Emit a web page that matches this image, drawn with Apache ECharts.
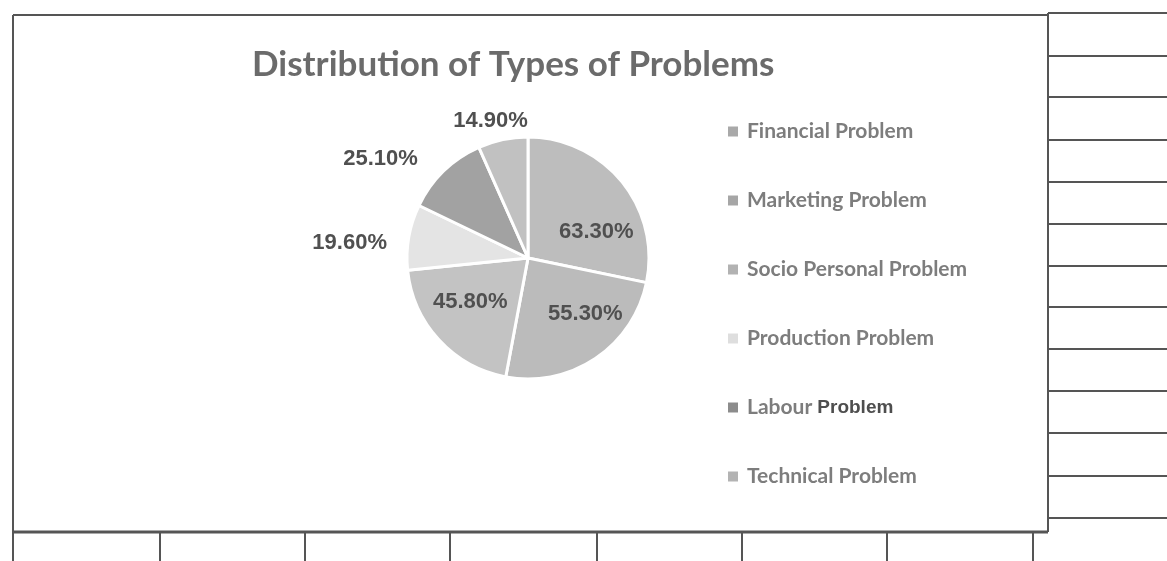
<!DOCTYPE html>
<html>
<head>
<meta charset="utf-8">
<title>Distribution of Types of Problems</title>
<script src="https://cdn.jsdelivr.net/npm/echarts@6/dist/echarts.min.js"></script>
<style>
  html, body { margin: 0; padding: 0; background: #ffffff; }
  #chart { width: 1167px; height: 561px; }
</style>
</head>
<body>
<div id="chart"></div>
<script>
// Problem categories and their reported shares (percent)
const categories = [
  'Financial Problem',
  'Marketing Problem',
  'Socio Personal Problem',
  'Production Problem',
  'Labour Problem',
  'Technical Problem'
];
const shares = [63.3, 55.3, 45.8, 19.6, 25.1, 14.9];

// Greyscale fills, one per category
const sliceColors = ['#bdbdbd', '#bbbbbb', '#c3c3c3', '#e4e4e4', '#a2a2a2', '#c1c1c1'];
const legendColors = ['#a9a9a9', '#a6a6a6', '#b2b2b2', '#dedede', '#8c8c8c', '#b3b3b3'];
// Large slices carry their label inside, small ones outside
const labelPlacement = ['inside', 'inside', 'inside', 'outside', 'outside', 'outside'];
// Small label nudges [dx, dy]
const labelNudge = [[19, 14], [22, 3], [-11, 1], [-7, 8], [-14, -5], [32, -9]];

const chart = echarts.init(document.getElementById('chart'), null, { renderer: 'canvas' });

const lineColor = '#555555';
const frame = [];
function hline(x1, x2, y, w) {
  frame.push({ type: 'line', silent: true, shape: { x1: x1, y1: y, x2: x2, y2: y },
               style: { stroke: lineColor, lineWidth: w || 2 } });
}
function vline(x, y1, y2, w) {
  frame.push({ type: 'line', silent: true, shape: { x1: x, y1: y1, x2: x, y2: y2 },
               style: { stroke: lineColor, lineWidth: w || 2 } });
}
// chart box
hline(13, 1048, 15, 2);
vline(13, 15, 561, 2);
vline(1048, 13, 532, 2);
hline(13, 1048, 532, 3);
// page table rules on the right
hline(1048, 1167, 13, 2);
[56, 97, 140, 182, 224, 266, 307, 349, 391, 433, 476, 518].forEach(y => hline(1049, 1167, y, 2));
// page table cells below
[160, 305, 450, 597, 742, 887, 1033].forEach(x => vline(x, 533, 561, 2));

const pieData = categories.map((name, i) => ({
  name: name,
  value: shares[i],
  itemStyle: { color: sliceColors[i] },
  label: { position: labelPlacement[i] }
}));

chart.setOption({
  backgroundColor: '#ffffff',
  animation: false,
  title: {
    text: 'Distribution of Types of Problems',
    left: 247,
    top: 42,
    textStyle: {
      fontFamily: 'Lato',
      fontWeight: 'bold',
      fontSize: 35,
      color: '#6b6b6b'
    }
  },
  legend: {
    orient: 'vertical',
    left: 721,
    top: 116,
    itemWidth: 12,
    itemHeight: 12,
    itemGap: 48,
    icon: 'rect',
    data: categories.map((name, i) => ({ name: name, itemStyle: { color: legendColors[i] } })),
    formatter: function (name) {
      return name === 'Labour Problem' ? '{a|Labour} {b|Problem}' : name;
    },
    textStyle: {
      fontFamily: 'Lato',
      fontWeight: 'bold',
      fontSize: 21,
      color: '#7d7d7d',
      padding: [0, 0, 0, 3],
      rich: {
        a: { fontFamily: 'Lato', fontWeight: 'bold', fontSize: 21, color: '#7d7d7d' },
        b: { fontFamily: 'Liberation Sans', fontWeight: 'bold', fontSize: 19, color: '#4e4e4e' }
      }
    }
  },
  graphic: frame,
  series: [{
    type: 'pie',
    center: [528, 258],
    radius: 121,
    startAngle: 90,
    clockwise: true,
    avoidLabelOverlap: false,
    itemStyle: { borderColor: '#ffffff', borderWidth: 3 },
    label: {
      show: true,
      formatter: function (p) { return p.value.toFixed(2) + '%'; },
      fontFamily: 'Liberation Sans',
      fontWeight: 'bold',
      fontSize: 22,
      color: '#505050'
    },
    labelLine: { show: false, length: 10, length2: 0 },
    labelLayout: function (params) {
      const n = labelNudge[params.dataIndex];
      return { dx: n[0], dy: n[1] };
    },
    emphasis: { disabled: true },
    data: pieData
  }]
});
</script>
</body>
</html>
